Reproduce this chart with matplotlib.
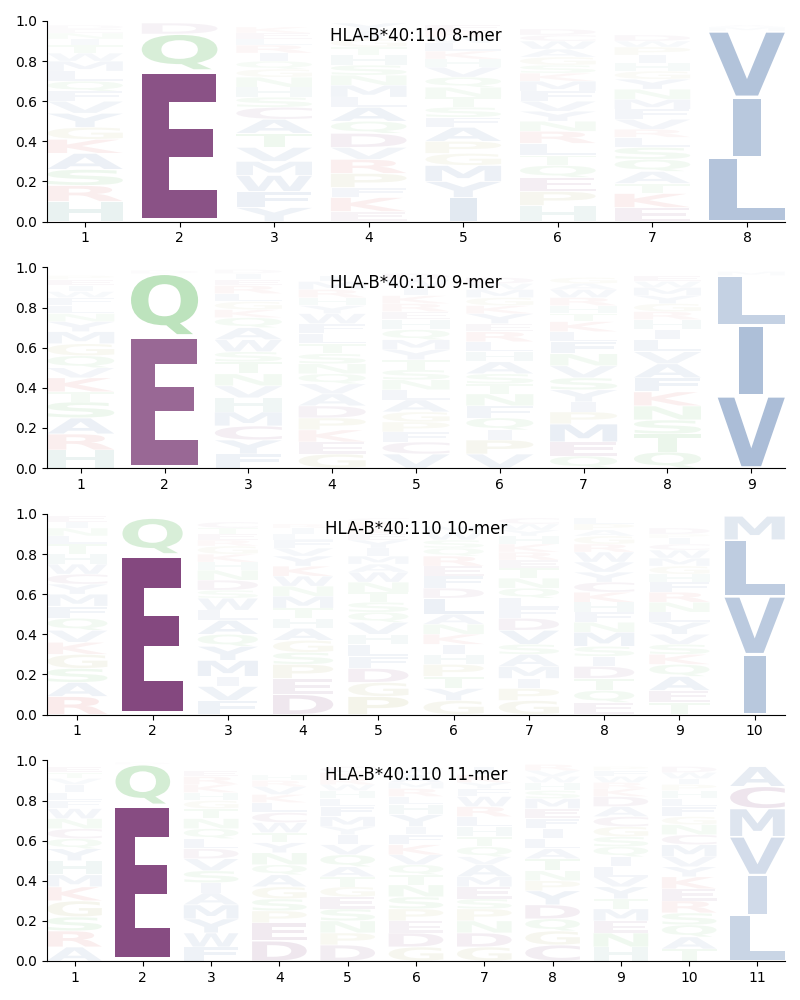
import matplotlib
matplotlib.use("Agg")
import matplotlib.pyplot as plt
from matplotlib.textpath import TextPath
from matplotlib.patches import PathPatch
from matplotlib.font_manager import FontProperties
from matplotlib.transforms import Affine2D

allele = "HLA-B*40:110"

# columns: (letters bottom -> top, heights)
logo_8 = [
    ("HRSAKGYVFQLMWTINED", [.10, .08, .08, .08, .07, .06, .07, .06, .05, .05, .05, .05, .04, .04, .03, .03, .02, .02]),
    ("EQD", [.755, .18, .055]),
    ("YFWMVTACSHNGQIRLEK", [.07, .08, .08, .07, .07, .07, .07, .06, .05, .05, .05, .04, .04, .04, .04, .03, .03, .03]),
    ("EKFPRVDQALMNSHTGIY", [.05, .07, .05, .07, .07, .06, .07, .06, .07, .05, .06, .05, .05, .05, .04, .04, .04, .04]),
    ("IYMGPAFSTNQVHKLWRE", [.12, .08, .08, .06, .06, .07, .05, .05, .05, .05, .05, .05, .04, .04, .04, .03, .03, .03]),
    ("HPEQTLRNYVFMKSGAWCD", [.08, .07, .07, .06, .05, .06, .06, .05, .05, .05, .05, .05, .04, .04, .04, .04, .04, .03, .03]),
    ("EKTAQSLRVFMNYGHIPWD", [.07, .07, .05, .06, .06, .06, .05, .04, .05, .05, .05, .05, .05, .04, .04, .04, .04, .03, .03]),
    ("LIVMA", [.32, .30, .33, .02, .01]),
]

logo_9 = [
    ("HRASTKVQGMYNLFWIEP", [.09, .08, .08, .08, .05, .07, .05, .06, .06, .06, .05, .04, .04, .04, .03, .03, .03, .02]),
    ("EQDN", [.66, .31, .015, .005]),
    ("FYCMHVNTSWAQKGLREID", [.07, .07, .07, .07, .07, .06, .06, .06, .05, .06, .06, .05, .04, .04, .04, .04, .03, .03, .02]),
    ("GEKPDAVQNSTLFWYHRMI", [.07, .06, .06, .06, .06, .06, .05, .05, .05, .05, .05, .05, .05, .05, .04, .04, .04, .04, .03]),
    ("VCFPGALNSTYMQHERKIWD", [.07, .06, .05, .05, .05, .06, .05, .05, .05, .05, .05, .05, .05, .05, .04, .04, .04, .04, .04, .03]),
    ("VPIQFNTSAHLREYKGMWD", [.07, .07, .05, .06, .06, .06, .05, .05, .06, .05, .05, .05, .04, .05, .04, .04, .04, .03, .03]),
    ("QEMPIYSVNFLKTHRWAG", [.06, .07, .09, .06, .05, .06, .06, .06, .06, .06, .05, .05, .04, .04, .04, .04, .03, .03]),
    ("QTSNKFAVLIHRGYMWE", [.08, .09, .07, .07, .07, .07, .07, .06, .06, .05, .05, .04, .04, .04, .04, .03, .03]),
    ("VILM", [.36, .35, .25, .02]),
]

logo_10 = [
    ("RASGKVQFMYCWHTLNIE", [.09, .07, .07, .07, .06, .06, .06, .06, .06, .05, .05, .05, .05, .05, .04, .04, .03, .03]),
    ("EQ", [.80, .18]),
    ("FVIMYQALWSDNHKGRETC", [.07, .07, .05, .08, .07, .06, .07, .05, .06, .04, .05, .05, .04, .04, .04, .03, .03, .03, .03]),
    ("DEPSGAHTMNWKYVFLIR", [.10, .08, .07, .06, .06, .06, .05, .05, .06, .05, .05, .05, .05, .04, .04, .03, .03, .02]),
    ("PGDFLHVQSTNWAMIYEKRC", [.09, .07, .07, .06, .06, .05, .06, .05, .05, .05, .05, .05, .04, .04, .04, .04, .03, .03, .03, .02]),
    ("GYTPHIKNALDFERQSWM", [.07, .06, .06, .06, .05, .05, .05, .05, .05, .08, .05, .06, .05, .05, .04, .04, .04, .03]),
    ("GPIMASVDFLQNTERKHYWC", [.07, .06, .05, .06, .06, .05, .07, .06, .05, .05, .05, .05, .05, .04, .04, .04, .04, .03, .03, .03]),
    ("EQTDISMNFHKCYVWRGAPL", [.06, .06, .06, .06, .05, .05, .07, .05, .05, .05, .05, .05, .05, .05, .05, .04, .04, .03, .03, .03]),
    ("TEAQKSVYLNRFHGMWCIPD", [.06, .06, .07, .06, .05, .05, .05, .06, .05, .05, .05, .05, .04, .04, .04, .04, .03, .03, .02, .03]),
    ("IVLM", [.30, .29, .28, .12]),
]

logo_11 = [
    ("ARSGKMHYQCNWFLIVTE", [.07, .08, .07, .08, .07, .06, .07, .06, .05, .05, .05, .05, .04, .04, .04, .03, .03, .03]),
    ("EQD", [.78, .20, .01]),
    ("FWYMAISVDLQNTGHKRE", [.07, .07, .07, .07, .06, .05, .06, .06, .05, .05, .05, .05, .05, .04, .04, .04, .04, .03]),
    ("DEPSGAQNYTWCLKVRH", [.10, .09, .06, .06, .06, .06, .05, .06, .05, .05, .05, .05, .05, .04, .04, .03, .03]),
    ("DPNSEGTAQVIYMFLHWRKC", [.08, .06, .06, .06, .06, .05, .05, .05, .06, .05, .05, .04, .05, .05, .04, .04, .03, .03, .03, .03]),
    ("GDEPSNTQVKFIYHLRMAW", [.07, .07, .06, .06, .06, .06, .05, .05, .05, .05, .05, .04, .06, .05, .04, .04, .03, .04, .03]),
    ("GDNPSEMAVQTHLRWFYKI", [.07, .07, .06, .06, .05, .06, .05, .06, .04, .05, .05, .05, .05, .05, .05, .04, .03, .04, .04]),
    ("CGQDYPNTALIFEMSHWVR", [.08, .07, .06, .07, .07, .05, .05, .06, .05, .05, .05, .05, .05, .05, .04, .04, .03, .03, .03]),
    ("HNEMTYVLIQSGCADKRWFP", [.07, .07, .06, .06, .05, .06, .05, .05, .05, .05, .05, .05, .05, .05, .05, .04, .03, .03, .03, .02]),
    ("TAQSREKYVMCNGFLHPIWD", [.06, .06, .06, .06, .06, .06, .06, .05, .05, .06, .05, .05, .04, .05, .04, .04, .03, .03, .03, .03]),
    ("LIVMCA", [.23, .20, .19, .14, .11, .10]),
]

logos = [(8, logo_8), (9, logo_9), (10, logo_10), (11, logo_11)]

# residue colours
colors = {}
for a in "AVLIMFWY":
    colors[a] = "#164a91"
for a in "DEC":
    colors[a] = "#651a5f"
for a in "NQST":
    colors[a] = "#2aa52a"
for a in "KR":
    colors[a] = "#c82828"
for a in "H":
    colors[a] = "#2b8278"
for a in "GP":
    colors[a] = "#8c8c1e"

font = FontProperties(family="DejaVu Sans", weight="bold")
width = 0.8
vpad = 0.05


def glyph_path(c):
    p = TextPath((0, 0), c, size=1, prop=font)
    return p, p.get_extents()


ref_path, ref_box = glyph_path("E")


def draw_letter(ax, c, x, y, h):
    p, box = glyph_path(c)
    hs = min(width / box.width, width / ref_box.width)
    gh = h * (1 - vpad)
    vs = gh / box.height
    w = box.width * hs
    t = (Affine2D().translate(-box.x0, -box.y0).scale(hs, vs)
         .translate(x - w / 2, y + h * vpad / 2))
    patch = PathPatch(t.transform_path(p), facecolor=colors[c],
                      edgecolor="none", alpha=min(1.0, h))
    ax.add_patch(patch)


fig, axes = plt.subplots(4, 1, figsize=(8, 10), dpi=100)
fig.subplots_adjust(left=0.059, right=0.981, top=0.979, bottom=0.039, hspace=0.229)

for ax, (L, cols) in zip(axes, logos):
    for i, (letters, heights) in enumerate(cols):
        pos = i + 1
        y = 0.0
        for c, h in zip(letters, heights):
            draw_letter(ax, c, pos, y, h)
            y += h
    ax.set_xlim(1 - width / 2, L + width / 2)
    ax.set_ylim(0, 1)
    ax.set_xticks(range(1, L + 1))
    ax.set_yticks([0.0, 0.2, 0.4, 0.6, 0.8, 1.0])
    ax.spines["top"].set_visible(False)
    ax.spines["right"].set_visible(False)
    ax.text(0.5, 0.925, f"{allele} {L}-mer", transform=ax.transAxes,
            ha="center", va="center", fontsize=12)

fig.savefig("out.png", dpi=100)
